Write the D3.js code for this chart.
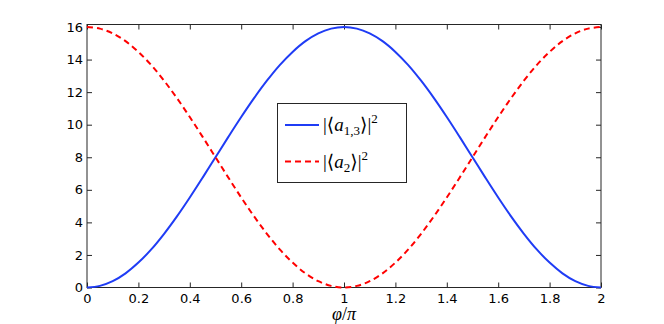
<!DOCTYPE html>
<html>
<head>
<meta charset="utf-8">
<script src="https://cdn.jsdelivr.net/npm/d3@7"></script>
<style>
  html, body { margin: 0; padding: 0; background: #fff; }
  svg { display: block; }
</style>
</head>
<body>
<svg id="chart" width="664" height="324"></svg>
<script>
// φ/π sample positions
const phi = [0, 0.05, 0.1, 0.15, 0.2, 0.25, 0.3, 0.35, 0.4, 0.45, 0.5,
             0.55, 0.6, 0.65, 0.7, 0.75, 0.8, 0.85, 0.9, 0.95, 1.0,
             1.05, 1.1, 1.15, 1.2, 1.25, 1.3, 1.35, 1.4, 1.45, 1.5,
             1.55, 1.6, 1.65, 1.7, 1.75, 1.8, 1.85, 1.9, 1.95, 2.0];
// |<a_{1,3}>|^2 (blue, solid)
const a13 = [0, 0.10, 0.39, 0.87, 1.53, 2.34, 3.30, 4.37, 5.53, 6.75, 8,
             9.25, 10.47, 11.63, 12.70, 13.66, 14.47, 15.13, 15.61, 15.90, 16,
             15.90, 15.61, 15.13, 14.47, 13.66, 12.70, 11.63, 10.47, 9.25, 8,
             6.75, 5.53, 4.37, 3.30, 2.34, 1.53, 0.87, 0.39, 0.10, 0];
// |<a_2>|^2 (red, dashed)
const a2 = [16, 15.90, 15.61, 15.13, 14.47, 13.66, 12.70, 11.63, 10.47, 9.25, 8,
            6.75, 5.53, 4.37, 3.30, 2.34, 1.53, 0.87, 0.39, 0.10, 0,
            0.10, 0.39, 0.87, 1.53, 2.34, 3.30, 4.37, 5.53, 6.75, 8,
            9.25, 10.47, 11.63, 12.70, 13.66, 14.47, 15.13, 15.61, 15.90, 16];
const xTicks = [0, 0.2, 0.4, 0.6, 0.8, 1, 1.2, 1.4, 1.6, 1.8, 2];
const yTicks = [0, 2, 4, 6, 8, 10, 12, 14, 16];

const svg = d3.select("#chart");
const axisColor = "#262626";
const x = d3.scaleLinear().domain([0, 2]).range([87, 601]);
const y = d3.scaleLinear().domain([0, 16]).range([287.5, 27]);
const frameTop = 24.5;

const fmt = d => String(+d.toFixed(1));

const gx = svg.append("g").attr("transform", `translate(0,${y(0)})`)
  .call(d3.axisBottom(x).tickValues(xTicks).tickFormat(fmt).tickSizeInner(-5).tickSizeOuter(0).tickPadding(6));
const gxt = svg.append("g").attr("transform", `translate(0,${frameTop})`)
  .call(d3.axisTop(x).tickValues(xTicks).tickFormat("").tickSizeInner(-5).tickSizeOuter(0));
const gy = svg.append("g").attr("transform", `translate(${x(0)},0)`)
  .call(d3.axisLeft(y).tickValues(yTicks).tickFormat(d => d).tickSizeInner(-5).tickSizeOuter(0).tickPadding(4));
const gyr = svg.append("g").attr("transform", `translate(${x(2)},0)`)
  .call(d3.axisRight(y).tickValues(yTicks).tickFormat("").tickSizeInner(-5).tickSizeOuter(0));

[gx, gxt, gy, gyr].forEach(g => {
  g.select(".domain").remove();
  g.selectAll(".tick line").attr("stroke", axisColor).attr("stroke-width", 1);
  g.selectAll(".tick text").attr("fill", "#000")
    .style("font-family", "'DejaVu Sans', sans-serif").style("font-size", "13px");
});

svg.append("rect")
  .attr("x", x(0)).attr("y", frameTop)
  .attr("width", x(2) - x(0)).attr("height", y(0) - frameTop)
  .attr("fill", "none").attr("stroke", axisColor).attr("stroke-width", 1);

const line = d3.line().x((d, i) => x(phi[i])).y(d => y(d)).curve(d3.curveCatmullRom);

svg.append("path").datum(a13)
  .attr("d", line).attr("fill", "none")
  .attr("stroke", "#1f3cf5").attr("stroke-width", 2);

svg.append("path").datum(a2)
  .attr("d", line).attr("fill", "none")
  .attr("stroke", "#ff0000").attr("stroke-width", 2)
  .attr("stroke-dasharray", "6,4");

// x label
const xl = svg.append("text")
  .attr("x", x(1)).attr("y", 320)
  .attr("text-anchor", "middle")
  .style("font-family", "'Liberation Serif', 'DejaVu Serif', serif")
  .style("font-size", "18px");
xl.append("tspan").style("font-style", "italic").text("φ");
xl.append("tspan").text("/");
xl.append("tspan").style("font-style", "italic").text("π");

// legend
const lg = svg.append("g");
lg.append("rect")
  .attr("x", 277.5).attr("y", 103.5).attr("width", 129).attr("height", 79)
  .attr("fill", "#fff").attr("stroke", axisColor).attr("stroke-width", 1);

const entries = [
  { color: "#1f3cf5", dash: null, sub: "1,3", y: 125 },
  { color: "#ff0000", dash: "6,4", sub: "2", y: 161.5 }
];
entries.forEach(e => {
  lg.append("line")
    .attr("x1", 285).attr("x2", 319).attr("y1", e.y).attr("y2", e.y)
    .attr("stroke", e.color).attr("stroke-width", 2)
    .attr("stroke-dasharray", e.dash);
  const t = lg.append("text")
    .attr("x", 323).attr("y", e.y + 6)
    .style("font-family", "'Liberation Serif', 'DejaVu Serif', serif")
    .style("font-size", "19px").attr("fill", "#000");
  t.append("tspan").text("|⟨");
  t.append("tspan").style("font-style", "italic").text("a");
  t.append("tspan").attr("dy", 4).style("font-size", "13px").text(e.sub);
  t.append("tspan").attr("dy", -4).text("⟩|");
  t.append("tspan").attr("dy", -8).style("font-size", "13px").text("2");
});
</script>
</body>
</html>
